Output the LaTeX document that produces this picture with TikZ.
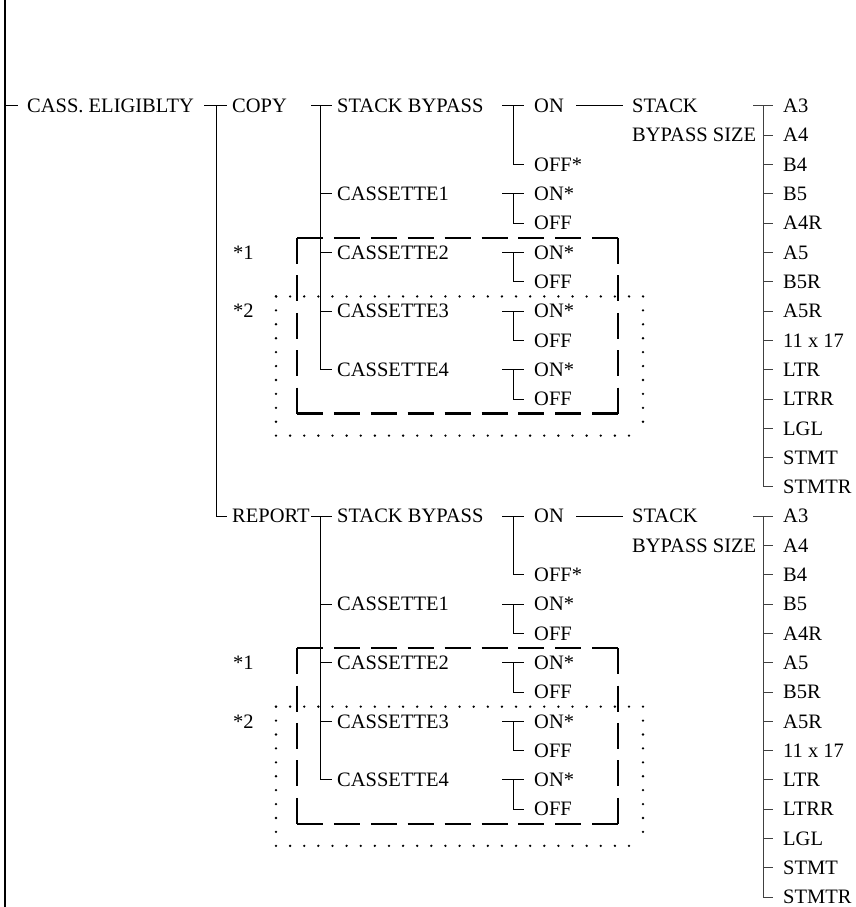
\documentclass[tikz,border=0pt]{standalone}
\usepackage{fontspec}
\setmainfont{Liberation Serif}
\usetikzlibrary{positioning}

\begin{document}
\begin{tikzpicture}[
    x=1pt, y=-29.3pt,
    every node/.style={font=\fontsize{20.5}{24}\selectfont, inner sep=0pt,
        text height=13.4pt, text depth=0pt, anchor=west},
    tree/.style={line width=1pt},
    sizetree/.style={line width=1pt, draw=black!75},
    optboxh/.style={line width=2.4pt, dash pattern=on 26pt off 10.9pt},
    optboxv/.style={line width=2.4pt, dash pattern=on 26pt off 11.45pt},
    optdotsh/.style={line width=2.6pt, line cap=round, dash pattern=on 0pt off 14.12pt},
    optdotsv/.style={line width=2.6pt, line cap=round, dash pattern=on 0pt off 13.92pt}
]
\useasboundingbox (0pt,106pt) rectangle (855pt,-801pt);

% main bar
\coordinate (bartop) at (5pt,106pt);
\coordinate (barbot) at (5pt,-801pt);
\draw[line width=1.4pt] (bartop) -- (barbot);

\node (cass) at (27,0) {CASS. ELIGIBLTY};
\node (copy) at (232,0) {COPY};
\node (report) at (232,14) {REPORT};
\draw[tree] (cass.west -| bartop) -- ([xshift=-9pt]cass.west);
\draw[tree] ([xshift=10pt]cass.east) -- ([xshift=-5pt]copy.west);
\draw[tree] ([xshift=-16pt]copy.west) |- ([xshift=-5pt]report.west);

% same sub tree for COPY and REPORT
\foreach \blk/\dy in {c/0, r/14} {
\begin{scope}[shift={(0,\dy)}]
  \node (\blk sb) at (337,0) {STACK BYPASS};
  \node (\blk c1) at (337,3) {CASSETTE1};
  \node (\blk c2) at (337,5) {CASSETTE2};
  \node (\blk c3) at (337,7) {CASSETTE3};
  \node (\blk c4) at (337,9) {CASSETTE4};
  \draw[tree] ([xshift=-26pt]\blk sb.west) -- ([xshift=-5pt]\blk sb.west);
  \draw[tree] ([xshift=-17pt]\blk sb.west) |- ([xshift=-5pt]\blk c4.west);
  \foreach \i in {1,2,3}
    \draw[tree] ([xshift=-17pt]\blk c\i.west) -- ([xshift=-5pt]\blk c\i.west);

  \node (\blk on) at (534,0) {ON};
  \node (\blk off) at (534,2) {OFF*};
  \draw[tree] ([xshift=-32pt]\blk on.west) -- ([xshift=-10pt]\blk on.west);
  \draw[tree] ([xshift=-21pt]\blk on.west) |- ([xshift=-10pt]\blk off.west);
  \foreach \i/\r in {1/3,2/5,3/7,4/9} {
    \node (\blk on\i) at (534,\r) {ON*};
    \node (\blk off\i) at (534,\r+1) {OFF};
    \draw[tree] ([xshift=-32pt]\blk on\i.west) -- ([xshift=-10pt]\blk on\i.west);
    \draw[tree] ([xshift=-21pt]\blk on\i.west) |- ([xshift=-10pt]\blk off\i.west);
  }

  \node (\blk stk) at (632,0) {STACK};
  \node (\blk stksz) at (632,1) {BYPASS SIZE};
  \draw[tree] ([xshift=12pt]\blk on.east) -- ([xshift=-9pt]\blk stk.west);

  \foreach \s [count=\k from 0] in {A3,A4,B4,B5,A4R,A5,B5R,A5R,11 x 17,LTR,LTRR,LGL,STMT,STMTR}
    \node (\blk s\k) at (783,\k) {\s};
  \draw[sizetree] ([xshift=-30pt]\blk s0.west) -- ([xshift=-10pt]\blk s0.west);
  \draw[sizetree] ([xshift=-20pt]\blk s0.west) |- ([xshift=-10pt]\blk s13.west);
  \foreach \k in {1,...,12}
    \draw[sizetree] ([xshift=-20pt]\blk s\k.west) -- ([xshift=-10pt]\blk s\k.west);

  % optional cassettes
  \node (\blk n1) at (233,5) {*1};
  \node (\blk n2) at (233,7) {*2};
  \draw[optboxh] (297,4.5) -- (618,4.5) (297,10.5) -- (618,10.5);
  \draw[optboxv] (297,4.5) -- (297,10.5) (618,4.5) -- (618,10.5);
  \draw[optdotsh] (276,6.5) -- (643,6.5) (276,11.25) -- (643,11.25);
  \draw[optdotsv] (276,6.5) -- (276,11.25) (643,6.5) -- (643,11.25);
\end{scope}
}
\end{tikzpicture}
\end{document}
